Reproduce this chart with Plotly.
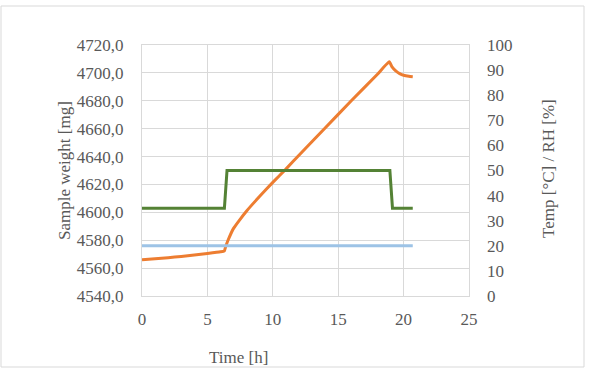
import plotly.graph_objects as go

# Sample weight (left axis)
weight_t = [0, 1, 2, 3, 4, 5, 6, 6.3, 6.4, 6.6, 7.0, 7.5, 8.0, 9.0, 10.0, 11.0, 12.0,
            14.0, 16.0, 18.0, 18.9, 19.1, 19.4, 19.7, 20.0, 20.4, 20.7]
weight_v = [4566.0, 4566.7, 4567.5, 4568.4, 4569.4, 4570.5, 4571.7, 4572.4, 4575.5,
            4580.5, 4588.5, 4595.0, 4601.0, 4611.5, 4621.5, 4631.0, 4641.0, 4660.5,
            4680.0, 4699.0, 4708.0, 4704.5, 4701.5, 4699.5, 4698.3, 4697.6, 4697.3]

# RH (right axis)
rh_t = [0, 6.3, 6.5, 18.95, 19.15, 20.7]
rh_v = [35, 35, 50, 50, 35, 35]

# Temperature (right axis)
temp_t = [0, 20.7]
temp_v = [20, 20]

x_ticks = [0, 5, 10, 15, 20, 25]

GRID = "#D9D9D9"
TXT = "#595959"
FONT = "Liberation Serif"
FS = 17

fig = go.Figure()
fig.add_trace(go.Scatter(x=temp_t, y=temp_v, yaxis="y2", mode="lines",
                         line=dict(color="#9DC3E6", width=3), name="Temp"))
fig.add_trace(go.Scatter(x=rh_t, y=rh_v, yaxis="y2", mode="lines",
                         line=dict(color="#548235", width=3), name="RH"))
fig.add_trace(go.Scatter(x=weight_t, y=weight_v, yaxis="y", mode="lines",
                         line=dict(color="#ED7D31", width=3, shape="spline", smoothing=0.4),
                         name="Sample weight"))

L, R, T, B = 142, 120, 45, 72
W, H = 589, 368
pw, ph = W - L - R, H - T - B

def px(x):
    return (x - L) / pw

def py(y):
    return (H - B - y) / ph

tf = dict(family=FONT, size=FS, color=TXT)

fig.update_layout(
    width=W, height=H,
    margin=dict(l=L, r=R, t=T, b=B, pad=0),
    paper_bgcolor="white", plot_bgcolor="white",
    showlegend=False,
    separators=", ",
    font=tf,
    xaxis=dict(range=[0, 25], tickvals=x_ticks, showgrid=True, gridcolor=GRID,
               gridwidth=1, showline=True, linecolor=GRID, mirror=True,
               zeroline=False, ticks="", ticklabelstandoff=8, tickfont=tf),
    yaxis=dict(range=[4540, 4720], dtick=20, tickformat=".1f", showgrid=True,
               gridcolor=GRID, gridwidth=1, showline=True, linecolor=GRID,
               mirror=True, zeroline=False, ticks="", ticklabelstandoff=14,
               tickfont=tf),
    yaxis2=dict(range=[0, 100], dtick=10, overlaying="y", side="right",
                showgrid=False, zeroline=False, showline=False, ticks="",
                ticklabelstandoff=17, tickfont=tf),
    shapes=[dict(type="rect", xref="paper", yref="paper",
                 x0=px(1), x1=px(584), y0=py(367), y1=py(6),
                 line=dict(color=GRID, width=1), fillcolor="rgba(0,0,0,0)",
                 layer="below")],
    annotations=[
        dict(text="Sample weight [mg]", xref="paper", yref="paper",
             x=px(64), y=py(171), textangle=-90, showarrow=False,
             xanchor="center", yanchor="middle", font=tf),
        dict(text="Temp [°C] / RH [%]", xref="paper", yref="paper",
             x=px(548), y=py(169), textangle=-90, showarrow=False,
             xanchor="center", yanchor="middle", font=tf),
        dict(text="Time [h]", xref="paper", yref="paper",
             x=px(238), y=py(357), showarrow=False,
             xanchor="center", yanchor="middle", font=tf),
    ],
)

fig.write_html("out.html")
